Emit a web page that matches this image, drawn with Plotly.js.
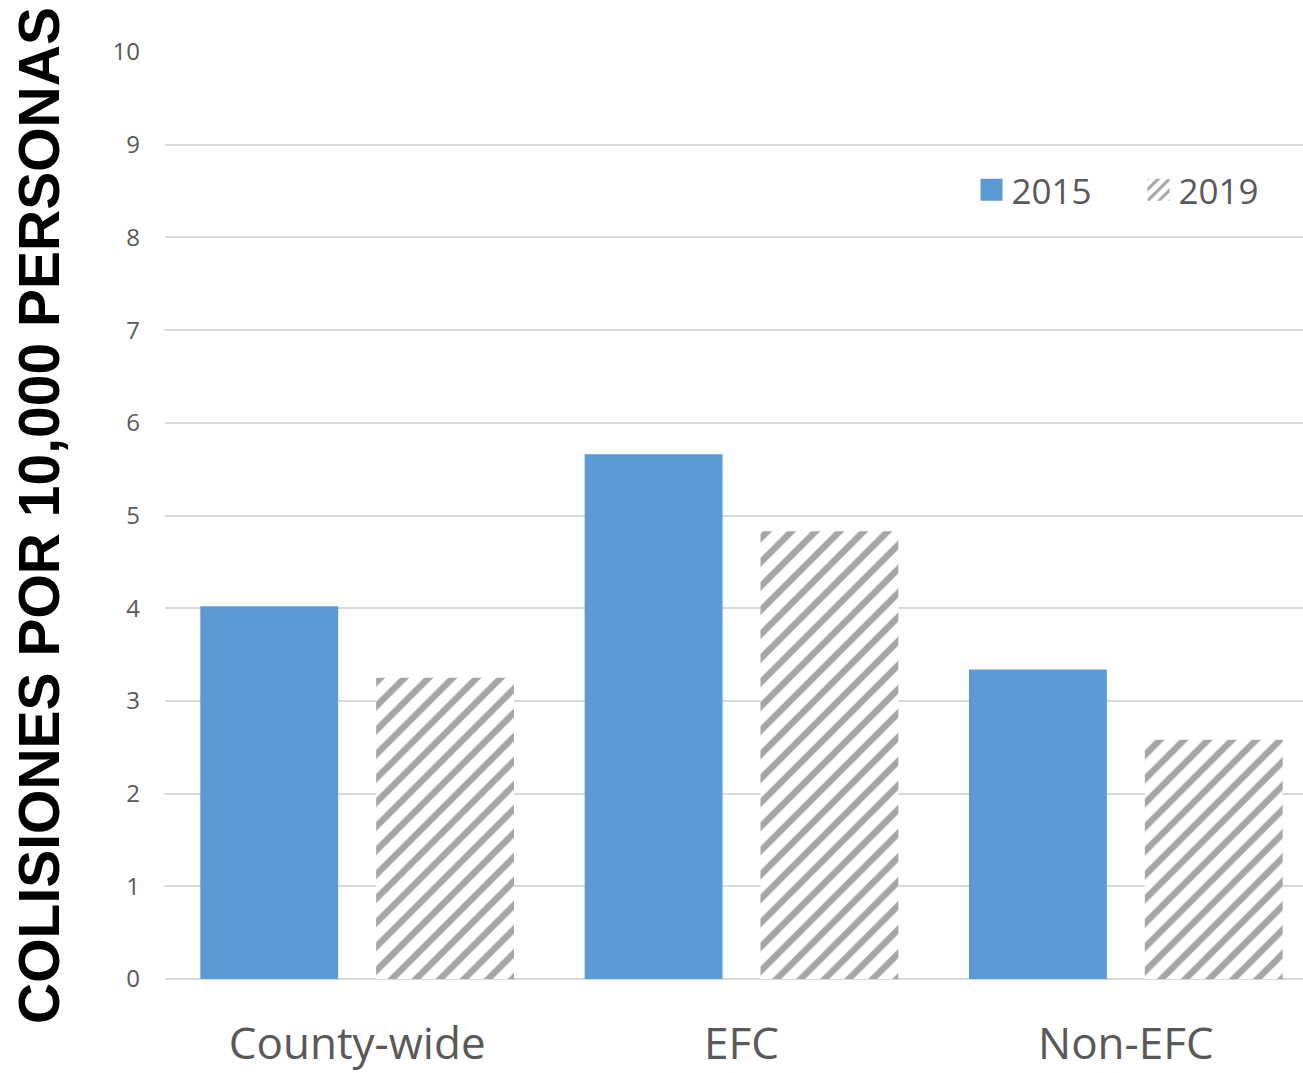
<!DOCTYPE html>
<html>
<head>
<meta charset="utf-8">
<script src="https://cdn.plot.ly/plotly-3.0.1.min.js"></script>
<style>html,body{margin:0;padding:0;background:#fff;overflow:hidden;}#wrap{width:1303px;height:1073px;overflow:hidden;}#chart{width:1318px;height:1073px;}</style>
</head>
<body>
<div id="wrap"><div id="chart"></div></div>
<script>
const categories = ["County-wide", "EFC", "Non-EFC"];
const values2015 = [4.02, 5.66, 3.34];
const values2019 = [3.25, 4.83, 2.58];
const seriesNames = ["2015", "2019"];
const yTicks = [0,1,2,3,4,5,6,7,8,9,10];

const data = [
  {type:"bar", name:seriesNames[0], x:categories, y:values2015,
   marker:{color:"#5b9bd5", line:{width:0}}},
  {type:"bar", name:seriesNames[1], x:categories, y:values2019,
   marker:{color:"#ffffff", line:{width:0},
     pattern:{shape:"/", fgcolor:"#a5a5a5", bgcolor:"#ffffff", size:17, solidity:0.38}}}
];

const layout = {
  width:1318, height:1073,
  margin:{l:165, r:0, t:52, b:94, autoexpand:false},
  paper_bgcolor:"#ffffff", plot_bgcolor:"#ffffff",
  barmode:"group", bargap:0.085, bargroupgap:0.216,
  font:{family:"Open Sans, sans-serif", color:"#595959"},
  showlegend:true,
  legend:{orientation:"h", x:0.6995, y:0.851, xanchor:"left", yanchor:"middle",
    font:{size:35, color:"#595959", family:"Open Sans, sans-serif"},
    itemwidth:30, entrywidth:122, entrywidthmode:"pixels",
    bgcolor:"rgba(0,0,0,0)", traceorder:"normal"},
  xaxis:{showgrid:false, showline:false, zeroline:false, ticks:"",
    tickfont:{size:44, color:"#595959", family:"Open Sans, sans-serif"},
    ticklabelstandoff:35, automargin:false},
  yaxis:{range:[0,10], tickvals:yTicks, ticktext:yTicks.map(String),
    showgrid:true, gridcolor:"#d9d9d9", gridwidth:2,
    zeroline:true, zerolinecolor:"#d9d9d9", zerolinewidth:2,
    showline:false, ticks:"", ticklabelstandoff:24,
    tickfont:{size:24, color:"#595959", family:"Open Sans, sans-serif"},
    automargin:false,
    title:{text:"COLISIONES POR 10,000 PERSONAS", standoff:34,
      font:{size:57, color:"#000000", family:"Liberation Sans, Arial, sans-serif", weight:"bold"}}}
};

Plotly.newPlot("chart", data, layout, {displayModeBar:false, staticPlot:true}).then(function(gd){
  gd.querySelectorAll('.legend .legendpoints path').forEach(function(p){
    p.setAttribute('d','M11,11H-11V-11H11Z');
  });
});
</script>
</body>
</html>
